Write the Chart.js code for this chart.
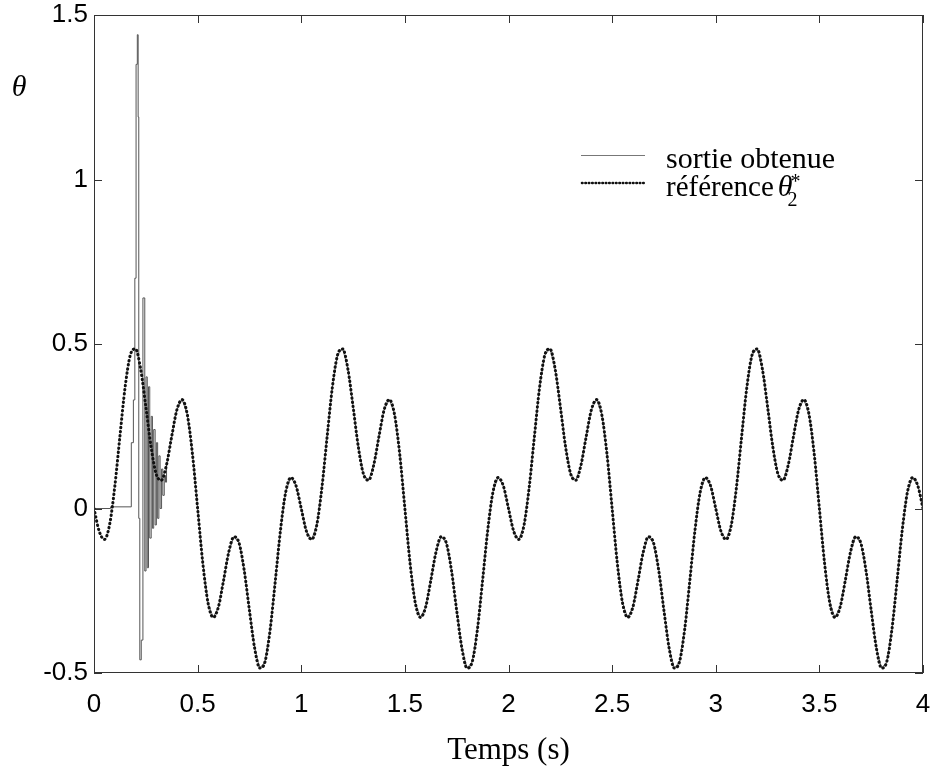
<!DOCTYPE html>
<html>
<head>
<meta charset="utf-8">
<script src="https://cdn.jsdelivr.net/npm/chart.js@4.4.0/dist/chart.umd.min.js"></script>
<style>
  html, body { margin: 0; padding: 0; background: #fff; }
  #wrap { width: 935px; height: 769px; }
</style>
</head>
<body>
<div id="wrap"><canvas id="myChart" width="935" height="769"></canvas></div>
<script>
// reference theta2*, one sample every 0.025 s (0 .. 4 s)
var refStep = 0.025;
var refValues = [
  0, -0.069, -0.094, -0.050, 0.065, 0.219, 0.368, 0.466, 0.485, 0.424,
  0.310, 0.189, 0.105, 0.086, 0.133, 0.219, 0.300, 0.331, 0.286, 0.166,
  0, -0.166, -0.286, -0.331, -0.300, -0.219, -0.133, -0.086, -0.105, -0.189,
  -0.310, -0.424, -0.485, -0.466, -0.368, -0.219, -0.065, 0.050, 0.094, 0.069,
  0, -0.069, -0.094, -0.050, 0.065, 0.219, 0.368, 0.466, 0.485, 0.424,
  0.310, 0.189, 0.105, 0.086, 0.133, 0.219, 0.300, 0.331, 0.286, 0.166,
  0, -0.166, -0.286, -0.331, -0.300, -0.219, -0.133, -0.086, -0.105, -0.189,
  -0.310, -0.424, -0.485, -0.466, -0.368, -0.219, -0.065, 0.050, 0.094, 0.069,
  0, -0.069, -0.094, -0.050, 0.065, 0.219, 0.368, 0.466, 0.485, 0.424,
  0.310, 0.189, 0.105, 0.086, 0.133, 0.219, 0.300, 0.331, 0.286, 0.166,
  0, -0.166, -0.286, -0.331, -0.300, -0.219, -0.133, -0.086, -0.105, -0.189,
  -0.310, -0.424, -0.485, -0.466, -0.368, -0.219, -0.065, 0.050, 0.094, 0.069,
  0, -0.069, -0.094, -0.050, 0.065, 0.219, 0.368, 0.466, 0.485, 0.424,
  0.310, 0.189, 0.105, 0.086, 0.133, 0.219, 0.300, 0.331, 0.286, 0.166,
  0, -0.166, -0.286, -0.331, -0.300, -0.219, -0.133, -0.086, -0.105, -0.189,
  -0.310, -0.424, -0.485, -0.466, -0.368, -0.219, -0.065, 0.050, 0.094, 0.069,
  0
];

// sortie obtenue: start-up transient (held samples), then it follows the reference
var transTimes = [0, 0.08, 0.18, 0.19, 0.197, 0.203, 0.209, 0.213, 0.216, 0.221,
  0.228, 0.236, 0.245, 0.251, 0.257, 0.263, 0.269, 0.276, 0.282, 0.288,
  0.295, 0.301, 0.307, 0.313, 0.319, 0.326, 0.332, 0.339, 0.345, 0.35];
var transValues = [0, 0.005, 0.2, 0.33, 0.7, 1.35, 1.44, 1.19, -0.03, -0.46,
  -0.4, 0.64, -0.19, 0.4, -0.18, 0.37, -0.09, 0.28, -0.06, 0.24,
  -0.05, 0.2, -0.03, 0.16, 0.0, 0.12, 0.04, 0.1, 0.08, 0.133];
var trackStart = 14; // index in refValues where the output has caught up (t = 0.35)

var xTicks = [0, 0.5, 1, 1.5, 2, 2.5, 3, 3.5, 4];
var yTicks = [-0.5, 0, 0.5, 1, 1.5];

var SANS = '"Liberation Sans", Arial, sans-serif';
var SERIF = '"Liberation Serif", "Times New Roman", serif';

var refPoints = refValues.map(function (v, i) { return { x: i * refStep, y: v }; });
var transPoints = transTimes.map(function (t, i) { return { x: t, y: transValues[i] }; });
var trackPoints = refPoints.slice(trackStart);

function noScalePadding(s) {
  s.paddingTop = 0; s.paddingBottom = 0; s.paddingLeft = 0; s.paddingRight = 0;
}

// box, inward ticks, y label and legend (MATLAB look)
var framePlugin = {
  id: 'frame',
  afterDatasetsDraw: function (chart) {
    var ctx = chart.ctx, a = chart.chartArea;
    var xs = chart.scales.x, ys = chart.scales.y;
    var tl = 8;
    ctx.save();
    ctx.strokeStyle = '#333';
    ctx.lineWidth = 1;
    ctx.strokeRect(a.left + 0.5, a.top + 0.5, a.right - a.left - 1, a.bottom - a.top - 1);
    ctx.beginPath();
    xTicks.forEach(function (v) {
      var px = Math.round(xs.getPixelForValue(v)) + 0.5;
      ctx.moveTo(px, a.bottom); ctx.lineTo(px, a.bottom - tl);
      ctx.moveTo(px, a.top); ctx.lineTo(px, a.top + tl);
    });
    yTicks.forEach(function (v) {
      var py = Math.round(ys.getPixelForValue(v)) + 0.5;
      ctx.moveTo(a.left, py); ctx.lineTo(a.left + tl, py);
      ctx.moveTo(a.right, py); ctx.lineTo(a.right - tl, py);
    });
    ctx.stroke();

    // y axis label
    ctx.fillStyle = '#000';
    ctx.font = 'italic 30px ' + SERIF;
    ctx.textAlign = 'center';
    ctx.textBaseline = 'alphabetic';
    ctx.fillText('\u03b8', 19, 96);

    // legend
    ctx.strokeStyle = '#777';
    ctx.lineWidth = 1;
    ctx.beginPath();
    ctx.moveTo(581, 155.5); ctx.lineTo(645, 155.5);
    ctx.stroke();
    ctx.strokeStyle = '#111';
    ctx.lineWidth = 2.6;
    ctx.lineCap = 'round';
    ctx.setLineDash([0.5, 2.9]);
    ctx.beginPath();
    ctx.moveTo(582, 183); ctx.lineTo(645, 183);
    ctx.stroke();
    ctx.setLineDash([]);

    ctx.textAlign = 'left';
    ctx.font = '30px ' + SERIF;
    ctx.fillText('sortie obtenue', 666, 168);
    ctx.font = '29px ' + SERIF;
    ctx.fillText('r\u00e9f\u00e9rence', 666, 196);
    var tx = 666 + ctx.measureText('r\u00e9f\u00e9rence').width + 4;
    ctx.font = 'italic 30px ' + SERIF;
    ctx.fillText('\u03b8', tx, 196);
    var th = ctx.measureText('\u03b8').width;
    ctx.font = '20px ' + SERIF;
    ctx.fillText('2', tx + th - 5, 206);
    ctx.fillText('*', tx + th - 2, 188);
    ctx.restore();
  }
};

var ctx = document.getElementById('myChart');
var myChart = new Chart(ctx, {
  type: 'line',
  data: {
    datasets: [{
      label: 'r\u00e9f\u00e9rence \u03b82*',
      data: refPoints,
      borderColor: '#111',
      borderWidth: 3,
      borderDash: [0.5, 3.7],
      borderCapStyle: 'round',
      cubicInterpolationMode: 'monotone',
      pointRadius: 0,
      fill: false
    }, {
      label: 'sortie obtenue',
      data: transPoints,
      borderColor: '#555',
      borderWidth: 1,
      stepped: 'before',
      pointRadius: 0,
      fill: false
    }, {
      label: 'sortie obtenue (suivi)',
      data: trackPoints,
      borderColor: '#777',
      borderWidth: 1,
      tension: 0,
      pointRadius: 0,
      fill: false
    }]
  },
  options: {
    responsive: false,
    animation: false,
    devicePixelRatio: 1,
    layout: { padding: { top: 15, right: 12, left: 0, bottom: 0 } },
    plugins: {
      legend: { display: false },
      tooltip: { enabled: false }
    },
    scales: {
      x: {
        type: 'linear',
        min: 0,
        max: 4,
        afterFit: function (s) { s.height = 96; noScalePadding(s); },
        afterBuildTicks: function (s) { s.ticks = xTicks.map(function (v) { return { value: v }; }); },
        grid: { display: false, drawTicks: false },
        border: { display: false },
        ticks: {
          color: '#000',
          font: { family: SANS, size: 26 },
          padding: 16,
          maxRotation: 0,
          callback: function (v) { return String(Math.round(v * 10) / 10); }
        },
        title: {
          display: true,
          text: 'Temps (s)',
          color: '#000',
          font: { family: SERIF, size: 31, lineHeight: 1.2 },
          padding: { top: 0, bottom: 0 }
        }
      },
      y: {
        type: 'linear',
        min: -0.5,
        max: 1.5,
        afterFit: function (s) { s.width = 94; noScalePadding(s); },
        afterBuildTicks: function (s) { s.ticks = yTicks.map(function (v) { return { value: v }; }); },
        grid: { display: false, drawTicks: false },
        border: { display: false },
        ticks: {
          color: '#000',
          font: { family: SANS, size: 26 },
          padding: 6,
          callback: function (v) { return String(Math.round(v * 10) / 10); }
        }
      }
    }
  },
  plugins: [framePlugin]
});
</script>
</body>
</html>
